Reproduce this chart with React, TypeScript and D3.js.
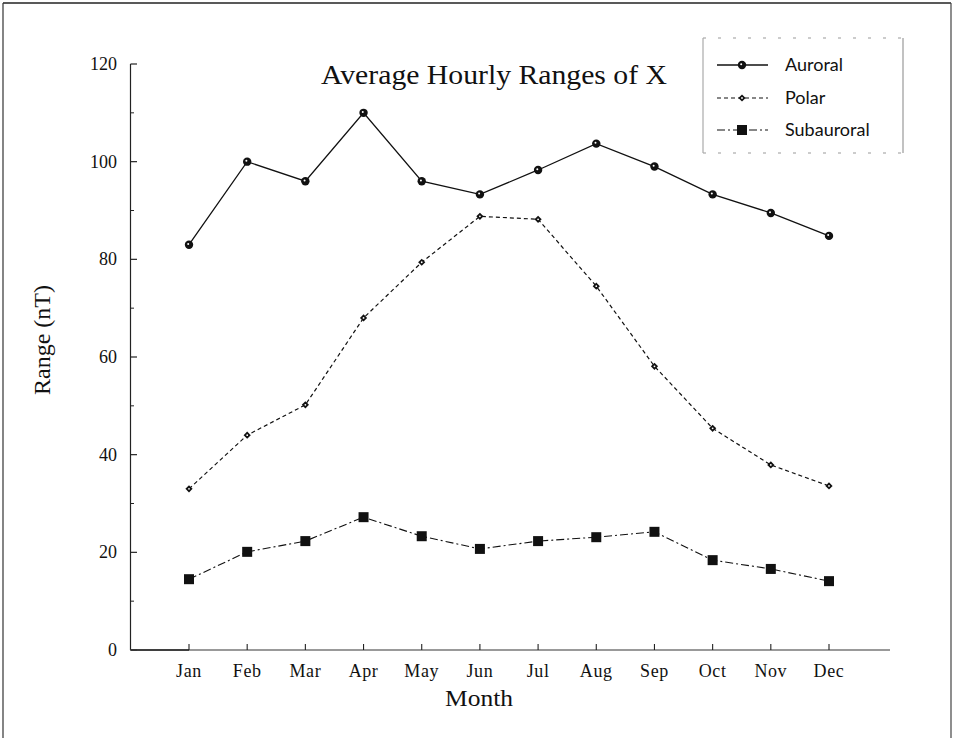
import React from "react";
import * as d3 from "d3";

const months = ["Jan", "Feb", "Mar", "Apr", "May", "Jun", "Jul", "Aug", "Sep", "Oct", "Nov", "Dec"];
const auroral = [83, 100, 96, 110, 96, 93.3, 98.3, 103.7, 99, 93.3, 89.5, 84.8];
const polar = [33, 44, 50.2, 68, 79.4, 88.8, 88.2, 74.5, 58.1, 45.4, 37.9, 33.6];
const subauroral = [14.5, 20.1, 22.3, 27.2, 23.3, 20.7, 22.3, 23.1, 24.2, 18.4, 16.6, 14.1];
const yMajorTicks = [0, 20, 40, 60, 80, 100, 120];
const yMinorTicks = [10, 30, 50, 70, 90, 110];

const W = 958;
const H = 738;

export default function App() {
  const x = d3.scaleLinear().domain([0, 11]).range([189, 829]);
  const y = d3.scaleLinear().domain([0, 120]).range([650, 64]);
  const serif = "'Liberation Serif', 'Times New Roman', serif";
  const legendFont = "Lato, 'Open Sans', sans-serif";

  const line = d3
    .line<number>()
    .x((_, i) => x(i))
    .y((d) => y(d));

  const circle = (cx: number, cy: number, k: string) => (
    <g key={k}>
      <circle cx={cx} cy={cy} r={4.2} fill="#111" />
      <circle cx={cx - 0.8} cy={cy - 0.8} r={1} fill="#fff" />
    </g>
  );
  const diamond = (cx: number, cy: number, k: string) => (
    <g key={k}>
      <path d={`M${cx},${cy - 3.6}L${cx + 3.6},${cy}L${cx},${cy + 3.6}L${cx - 3.6},${cy}Z`} fill="#111" />
      <circle cx={cx} cy={cy} r={0.9} fill="#fff" />
    </g>
  );
  const square = (cx: number, cy: number, k: string) => (
    <rect key={k} x={cx - 5} y={cy - 5} width={10} height={10} fill="#111" />
  );

  const series = [
    { name: "Auroral", data: auroral, dash: "none", marker: circle, width: 1.3 },
    { name: "Polar", data: polar, dash: "4,3", marker: diamond, width: 1.2 },
    { name: "Subauroral", data: subauroral, dash: "8,3,2,3", marker: square, width: 1.1 },
  ];

  const legendX = 703;
  const legendY = 38;
  const legendRows = [65, 98, 130];

  return (
    <svg width={W} height={H} style={{ position: "absolute", left: 0, top: 0, background: "#fff" }}>
      {/* frame */}
      <line x1={3} y1={3} x2={951} y2={3} stroke="#222" strokeWidth={1.5} />
      <line x1={3} y1={3} x2={3} y2={H} stroke="#333" strokeWidth={1.2} />
      <line x1={951} y1={3} x2={951} y2={H} stroke="#444" strokeWidth={1.2} />

      {/* title */}
      <text x={494} y={84} textAnchor="middle" fontFamily={serif} fontSize={27} fill="#111"
        textLength={346} lengthAdjust="spacingAndGlyphs">
        Average Hourly Ranges of X
      </text>

      {/* y axis */}
      <line x1={130.5} y1={y(120)} x2={130.5} y2={y(0)} stroke="#222" strokeWidth={1.2} />
      {yMajorTicks.map((t) => (
        <g key={"ma" + t}>
          <line x1={130.5} x2={137} y1={y(t)} y2={y(t)} stroke="#222" strokeWidth={1.2} />
          <text x={117} y={y(t) + 6} textAnchor="end" fontFamily={serif} fontSize={18} fill="#111">
            {t}
          </text>
        </g>
      ))}
      {yMinorTicks.map((t) => (
        <line key={"mi" + t} x1={130.5} x2={134} y1={y(t)} y2={y(t)} stroke="#222" strokeWidth={1} />
      ))}
      <text
        transform={`translate(50,${y(60) - 17}) rotate(-90)`}
        textAnchor="middle"
        fontFamily={serif}
        fontSize={23}
        fill="#111"
        textLength={110}
        lengthAdjust="spacingAndGlyphs"
      >
        Range (nT)
      </text>

      {/* x axis */}
      <line x1={130.5} y1={650} x2={890} y2={650} stroke="#777" strokeWidth={1.3} />
      <line x1={130.5} y1={650} x2={189} y2={650} stroke="#222" strokeWidth={1.3} />
      {months.map((m, i) => (
        <g key={m}>
          <line x1={x(i)} x2={x(i)} y1={650} y2={644} stroke="#222" strokeWidth={1.1} />
          <text x={x(i)} y={677} textAnchor="middle" fontFamily={serif} fontSize={18} letterSpacing={0.6} fill="#111">
            {m}
          </text>
        </g>
      ))}
      <text x={479} y={706} textAnchor="middle" fontFamily={serif} fontSize={23} fill="#111"
        textLength={68} lengthAdjust="spacingAndGlyphs">
        Month
      </text>

      {/* series */}
      {series.map((s) => (
        <g key={s.name}>
          <path d={line(s.data) || ""} fill="none" stroke="#111" strokeWidth={s.width} strokeDasharray={s.dash} />
          {s.data.map((d, i) => s.marker(x(i), y(d), s.name + i))}
        </g>
      ))}

      {/* legend */}
      <g>
        <line x1={legendX} y1={legendY} x2={903} y2={legendY} stroke="#999" strokeWidth={1} strokeDasharray="3,12" />
        <line x1={legendX} y1={153} x2={903} y2={153} stroke="#999" strokeWidth={1} strokeDasharray="3,12" />
        <line x1={legendX} y1={legendY} x2={legendX} y2={153} stroke="#aaa" strokeWidth={1.2} />
        <line x1={903} y1={legendY} x2={903} y2={153} stroke="#999" strokeWidth={1.2} />
        {series.map((s, i) => (
          <g key={"lg" + s.name}>
            <line
              x1={717}
              x2={768}
              y1={legendRows[i]}
              y2={legendRows[i]}
              stroke="#111"
              strokeWidth={s.width}
              strokeDasharray={s.dash}
            />
            {s.marker(742, legendRows[i], "lm" + i)}
            <text x={785} y={legendRows[i] + 6} fontFamily={legendFont} fontSize={18} fill="#111">
              {s.name}
            </text>
          </g>
        ))}
      </g>
    </svg>
  );
}
